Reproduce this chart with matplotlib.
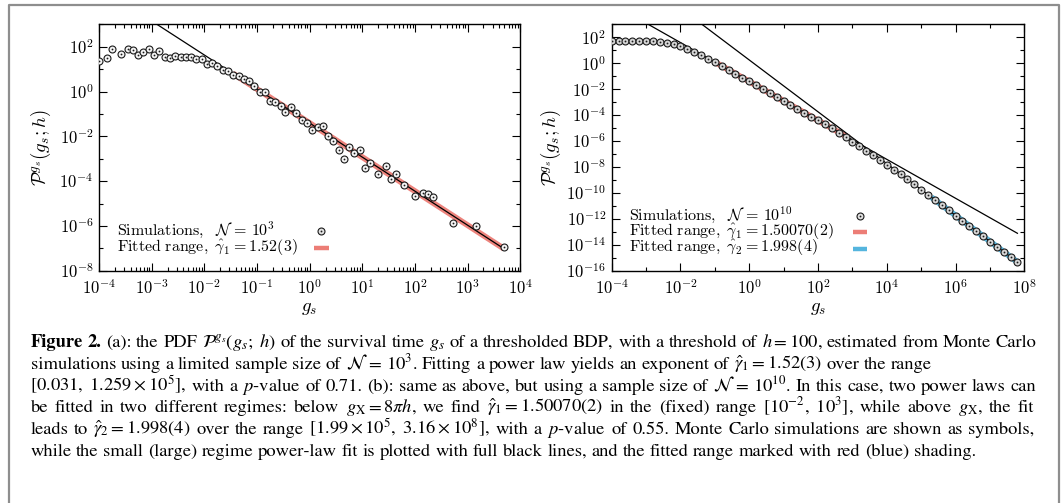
import numpy as np
import matplotlib
matplotlib.use("Agg")
import matplotlib.pyplot as plt
from matplotlib.lines import Line2D
from matplotlib.ticker import FixedLocator, FuncFormatter, NullFormatter

plt.rcParams['mathtext.fontset'] = 'cm'
plt.rcParams['font.family'] = 'DejaVu Serif'

# ---- data (log10 values) ----
# (a) N = 10^3
lgs_a = [-4.00, -3.85, -3.75, -3.59, -3.45, -3.35, -3.25, -3.16, -3.05, -2.95,
         -2.86, -2.75, -2.65, -2.55, -2.45, -2.35, -2.25, -2.15, -2.05, -1.95,
         -1.85, -1.76, -1.65, -1.55, -1.46, -1.35, -1.25, -1.15, -1.05, -0.95,
         -0.85, -0.75, -0.65, -0.55, -0.46, -0.35, -0.25, -0.15, -0.05, 0.05,
         0.15, 0.25, 0.35, 0.45, 0.55, 0.65, 0.75, 0.85, 0.95, 1.05,
         1.15, 1.30, 1.45, 1.55, 1.64, 1.80, 2.00, 2.15, 2.25, 2.35,
         2.73, 3.15, 3.69]
lp_a = [1.36, 1.51, 1.88, 1.66, 1.88, 1.85, 1.61, 1.76, 1.91, 1.61,
        1.79, 1.54, 1.48, 1.58, 1.55, 1.54, 1.54, 1.46, 1.46, 1.21,
        1.27, 1.13, 0.94, 0.90, 0.75, 0.67, 0.57, 0.46, 0.24, -0.03,
        -0.03, -0.43, -0.49, -0.66, -0.90, -0.70, -0.96, -1.28, -1.40, -1.70,
        -1.58, -1.55, -2.00, -2.19, -2.60, -3.01, -2.49, -2.75, -2.60, -3.42,
        -3.19, -3.67, -3.31, -3.91, -3.69, -4.16, -4.66, -4.51, -4.58, -4.70,
        -5.88, -6.00, -6.93]
gamma_a, amp_a = 1.52, 10**-1.41
fit_a = [0.035, 4.9e3]

# (b) N = 10^10, points every 0.2 decade from 1e-4
lgs_b = [-4.0, -3.8, -3.6, -3.4, -3.2, -3.0, -2.8, -2.6, -2.4, -2.2,
         -2.0, -1.8, -1.6, -1.4, -1.2, -1.0, -0.8, -0.6, -0.4, -0.2,
         0.0, 0.2, 0.4, 0.6, 0.8, 1.0, 1.2, 1.4, 1.6, 1.8,
         2.0, 2.2, 2.4, 2.6, 2.8, 3.0, 3.2, 3.4, 3.6, 3.8,
         4.0, 4.2, 4.4, 4.6, 4.8, 5.0, 5.2, 5.4, 5.6, 5.8,
         6.0, 6.2, 6.4, 6.6, 6.8, 7.0, 7.2, 7.4, 7.6, 7.8]
lp_b = [1.73, 1.73, 1.73, 1.72, 1.72, 1.71, 1.69, 1.66, 1.58, 1.46,
        1.31, 1.12, 0.89, 0.63, 0.36, 0.09, -0.21, -0.51, -0.81, -1.11,
        -1.41, -1.71, -2.01, -2.31, -2.61, -2.91, -3.21, -3.51, -3.81, -4.11,
        -4.41, -4.71, -5.02, -5.35, -5.66, -6.05, -6.38, -6.74, -7.10, -7.47,
        -7.85, -8.20, -8.55, -8.95, -9.35, -9.75, -10.15, -10.55, -10.95, -11.35,
        -11.75, -12.15, -12.55, -12.95, -13.35, -13.75, -14.15, -14.55, -14.95, -15.35]
gamma1_b, amp1_b = 1.5007, 10**-1.41
gamma2_b, amp2_b = 1.998, 10**0.25
fit1_b = [0.1, 8e2]
fit2_b = [1.99e5, 7e7]

RED = '#ec7d76'
BLUE = '#55b5de'

W, H = 1063, 503
fig = plt.figure(figsize=(W / 100, H / 100), dpi=100)


def box(x0, y0, x1, y1):
    return [x0 / W, 1 - y1 / H, (x1 - x0) / W, (y1 - y0) / H]


def fpos(x, y):
    return x / W, 1 - y / H


ax_a = fig.add_axes(box(99, 24.3, 520.3, 270.7))
ax_b = fig.add_axes(box(611.7, 24.3, 1024.3, 270.7))

fmt = FuncFormatter(lambda v, p: r'$10^{%d}$' % round(np.log10(v)))


def style(ax, xlim, ylim, xmaj, xmin, ymaj, ymin):
    ax.set_xscale('log')
    ax.set_yscale('log')
    ax.set_xlim(*xlim)
    ax.set_ylim(*ylim)
    ax.xaxis.set_major_locator(FixedLocator(xmaj))
    ax.xaxis.set_minor_locator(FixedLocator(xmin))
    ax.yaxis.set_major_locator(FixedLocator(ymaj))
    ax.yaxis.set_minor_locator(FixedLocator(ymin))
    ax.xaxis.set_major_formatter(fmt)
    ax.yaxis.set_major_formatter(fmt)
    ax.xaxis.set_minor_formatter(NullFormatter())
    ax.yaxis.set_minor_formatter(NullFormatter())
    ax.tick_params(which='both', direction='in', top=True, right=True,
                   width=0.8, labelsize=12)
    ax.tick_params(which='major', length=5.5)
    ax.tick_params(which='minor', length=3)
    ax.tick_params(axis='x', pad=6)
    ax.tick_params(axis='y', pad=4)
    for s in ax.spines.values():
        s.set_linewidth(1.0)
    ax.set_xlabel(r'$g_s$', fontsize=13.5)
    ax.set_ylabel(r'$\mathcal{P}^{g_s}(g_s;h)$', fontsize=13.5)


dec = lambda a, b: 10.0 ** np.arange(a, b + 1)
subs = np.concatenate([np.arange(2, 10) * 10.0 ** k for k in range(-4, 4)])
style(ax_a, (1e-4, 1e4), (1e-8, 1e3), dec(-4, 4), subs,
      10.0 ** np.arange(-8, 3, 2), 10.0 ** np.arange(-7, 4, 2))
style(ax_b, (1e-4, 1e8), (1e-16, 1e3), 10.0 ** np.arange(-4, 9, 2),
      10.0 ** np.arange(-3, 8, 2), 10.0 ** np.arange(-16, 3, 2),
      10.0 ** np.arange(-15, 4, 2))
ax_a.yaxis.set_label_coords((53 - 99) / 421, 0.5)
ax_b.yaxis.set_label_coords((563 - 612) / 412, 0.5)
ax_a.xaxis.set_label_coords(0.5, -(299 - 271) / 247)
ax_b.xaxis.set_label_coords(0.5, -(299 - 271) / 247)


def points(ax, x, y, face):
    ax.plot(x, y, ls='none', marker='o', ms=5.0, mfc=face, mec='#1a1a1a',
            mew=0.8, zorder=4)
    ax.plot(x, y, ls='none', marker='o', ms=1.3, mfc='#1a1a1a', mec='none',
            zorder=5)


def band(ax, rng, amp, g, color):
    x = np.array(rng)
    ax.plot(x, amp * x ** -g, color=color, lw=4.2, solid_capstyle='butt',
            alpha=0.95, zorder=2)


def fitline(ax, amp, g, xend):
    x = np.array([1e-4, xend])
    ax.plot(x, amp * x ** -g, color='k', lw=0.9, zorder=3)


# panel (a)
gs_a, p_a = 10.0 ** np.array(lgs_a), 10.0 ** np.array(lp_a)
band(ax_a, fit_a, amp_a, gamma_a, RED)
fitline(ax_a, amp_a, gamma_a, gs_a[-1])
points(ax_a, gs_a, p_a, '#f2f2f2')

# panel (b)
gs_b, p_b = 10.0 ** np.array(lgs_b), 10.0 ** np.array(lp_b)
band(ax_b, fit1_b, amp1_b, gamma1_b, RED)
band(ax_b, fit2_b, amp2_b, gamma2_b, BLUE)
fitline(ax_b, amp1_b, gamma1_b, gs_b[-1])
fitline(ax_b, amp2_b, gamma2_b, gs_b[-1])
points(ax_b, gs_b, p_b, '#d4d4d4')


# gnuplot-like keys: left-aligned text, sample in a fixed column
def key(tx, sx, rows):
    for y, label, kind in rows:
        fig.text(*fpos(tx, y + 4), label, fontsize=11.5, ha='left', va='baseline')
        if kind == 'pt':
            for ms, fc in ((5.0, '#e0e0e0'), (1.3, '#1a1a1a')):
                fig.add_artist(Line2D([sx / W], [1 - y / H], marker='o', ms=ms,
                                      mfc=fc, mec='#1a1a1a' if ms > 2 else 'none',
                                      mew=0.8, transform=fig.transFigure))
        else:
            fig.add_artist(Line2D([(sx - 7.5) / W, (sx + 7.5) / W],
                                  [1 - y / H, 1 - y / H], color=kind, lw=3.2,
                                  solid_capstyle='butt', transform=fig.transFigure))


key(117, 321, [(231, r'$\mathrm{Simulations,}\ \ \mathcal{N}\, =\, 10^3$', 'pt'),
               (248, r'$\mathrm{Fitted\ range,}\ \hat{\gamma}_1 = 1.52(3)$', RED)])
key(629, 860, [(216, r'$\mathrm{Simulations,}\ \ \mathcal{N}\, =\, 10^{10}$', 'pt'),
               (232, r'$\mathrm{Fitted\ range,}\ \hat{\gamma}_1 = 1.50070(2)$', RED),
               (248.5, r'$\mathrm{Fitted\ range,}\ \hat{\gamma}_2 = 1.998(4)$', BLUE)])

# outer frame
fig.add_artist(Line2D([9 / W, 9 / W, 1059 / W, 1059 / W], [0, 1 - 5 / H, 1 - 5 / H, 0],
                      color='#8e8e8e', lw=1.6, transform=fig.transFigure))

# caption, set line by line with the reference's own line breaks
caption = [
    r"Figure 2. (a): the PDF $\mathcal{P}^{g_s}(g_s;\ h)$ of the survival time $g_s$ of a thresholded BDP, with a threshold of $h = 100$, estimated from Monte Carlo",
    r"simulations using a limited sample size of $\mathcal{N}\, =\, 10^3$. Fitting a power law yields an exponent of $\hat{\gamma}_1 = 1.52(3)$ over the range",
    r"$[0.031,\ 1.259\times10^5]$, with a $p$-value of 0.71. (b): same as above, but using a sample size of $\mathcal{N}\, =\, 10^{10}$. In this case, two power laws can",
    r"be fitted in two different regimes: below $g_\mathrm{X} = 8\pi h$, we find $\hat{\gamma}_1 = 1.50070(2)$ in the (fixed) range $[10^{-2},\ 10^3]$, while above $g_\mathrm{X}$, the fit",
    r"leads to $\hat{\gamma}_2 = 1.998(4)$ over the range $[1.99\times10^5,\ 3.16\times10^8]$, with a $p$-value of 0.55. Monte Carlo simulations are shown as symbols,",
    r"while the small (large) regime power-law fit is plotted with full black lines, and the fitted range marked with red (blue) shading.",
]
cap_ends = [1035, 845, 1036, 1034, 1034, 765]
CAP_L, CAP_Y0, CAP_DY = 30.5, 347, 21.8


def split_words(s):
    out, cur, inmath = [], '', False
    for ch in s:
        if ch == '$':
            inmath = not inmath
        if ch == ' ' and not inmath:
            if cur:
                out.append(cur)
            cur = ''
        else:
            cur += ch
    if cur:
        out.append(cur)
    return out


renderer = fig.canvas.get_renderer()


def build(fs):
    rows = []
    for i, line in enumerate(caption):
        ts = []
        for j, w in enumerate(split_words(line)):
            bold = (i == 0 and j < 2)
            ts.append(fig.text(0, 0, w, fontsize=fs, family='STIXGeneral',
                               math_fontfamily='stix', va='baseline', ha='left',
                               weight='bold' if bold else 'normal'))
        rows.append((ts, [t.get_window_extent(renderer).width for t in ts]))
    return rows


# size the caption font on the full-width lines
full = [0, 2, 3, 4]
fs = 12.0
sp = 0.25 * fs * 100 / 72
rows = build(fs)
ratios = [(cap_ends[i] - CAP_L) / (sum(rows[i][1]) + (len(rows[i][1]) - 1) * sp)
          for i in full]
for ts, _ in rows:
    for t in ts:
        t.remove()
fs *= min(ratios)
sp = 0.25 * fs * 100 / 72
rows = build(fs)

for i, (ts, wd) in enumerate(rows):
    gap = sp
    if i in full:
        gap = max(sp, (cap_ends[i] - CAP_L - sum(wd)) / (len(wd) - 1))
    x = CAP_L
    for t, w in zip(ts, wd):
        t.set_position(fpos(x, CAP_Y0 + i * CAP_DY))
        x += w + gap

fig.savefig('out.png', dpi=100)
